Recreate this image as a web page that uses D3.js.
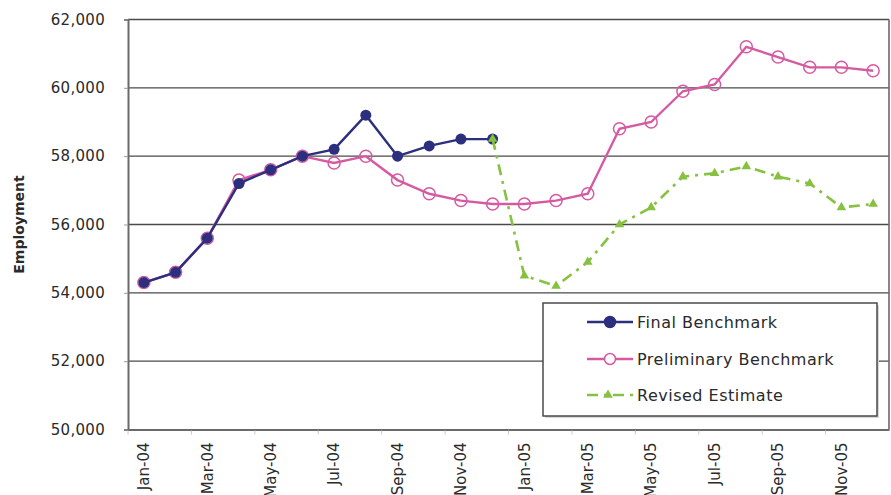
<!DOCTYPE html>
<html>
<head>
<meta charset="utf-8">
<script src="https://cdn.jsdelivr.net/npm/d3@7"></script>
<style>
  html, body { margin: 0; padding: 0; background: #fff; }
  svg { display: block; }
  text { font-family: "DejaVu Sans", Verdana, sans-serif; fill: #2a2a2a; }
</style>
</head>
<body>
<svg id="chart" width="891" height="495"></svg>
<script>
// Monthly categories, Jan-04 through Dec-05
const months = ["Jan-04","Feb-04","Mar-04","Apr-04","May-04","Jun-04","Jul-04","Aug-04","Sep-04","Oct-04","Nov-04","Dec-04",
                "Jan-05","Feb-05","Mar-05","Apr-05","May-05","Jun-05","Jul-05","Aug-05","Sep-05","Oct-05","Nov-05","Dec-05"];

// Final benchmark: Jan-04 .. Dec-04
const finalBenchmark = [54300, 54600, 55600, 57200, 57600, 58000, 58200, 59200, 58000, 58300, 58500, 58500];

// Preliminary benchmark: Jan-04 .. Dec-05
const preliminaryBenchmark = [54300, 54600, 55600, 57300, 57600, 58000, 57800, 58000, 57300, 56900, 56700, 56600,
                              56600, 56700, 56900, 58800, 59000, 59900, 60100, 61200, 60900, 60600, 60600, 60500];

// Revised estimate: Dec-04 .. Dec-05
const revisedMonths = months.slice(11);
const revisedEstimate = [58500, 54500, 54200, 54900, 56000, 56500, 57400, 57500, 57700, 57400, 57200, 56500, 56600];

const yTicks = [50000, 52000, 54000, 56000, 58000, 60000, 62000];
const xTickLabels = months.filter((m, i) => i % 2 === 0);

const seriesInfo = [
  { name: "Final Benchmark", color: "#2c2e7e" },
  { name: "Preliminary Benchmark", color: "#d65aa2" },
  { name: "Revised Estimate", color: "#86c140" }
];

const svg = d3.select("#chart");
const plotLeft = 128, plotRight = 889, plotTop = 19.5, plotBottom = 429.5;

const x = d3.scaleBand().domain(months).range([plotLeft, plotRight]).padding(0);
const cx = m => x(m) + x.bandwidth() / 2;
const y = d3.scaleLinear().domain([50000, 62000]).range([plotBottom, plotTop]);

// Horizontal gridlines
svg.append("g")
  .selectAll("line")
  .data(yTicks.filter(t => t > 50000))
  .join("line")
  .attr("x1", plotLeft).attr("x2", plotRight)
  .attr("y1", d => y(d)).attr("y2", d => y(d))
  .attr("stroke", "#4a4a4a").attr("stroke-width", 1.3);

// Right border
svg.append("line")
  .attr("x1", plotRight).attr("x2", plotRight).attr("y1", plotTop).attr("y2", plotBottom)
  .attr("stroke", "#6a6a6a").attr("stroke-width", 1.6);

// Y axis
const yAxis = svg.append("g")
  .attr("transform", `translate(${plotLeft},0)`)
  .call(d3.axisLeft(y).tickValues(yTicks).tickFormat(d3.format(",")).tickSize(4).tickPadding(19));
yAxis.select(".domain").attr("stroke", "#6a6a6a").attr("stroke-width", 2);
yAxis.selectAll(".tick line").attr("stroke", "#999");
yAxis.selectAll(".tick text")
  .style("font-family", "DejaVu Sans, sans-serif")
  .style("font-size", "15px").style("letter-spacing", "0.3px").attr("fill", "#2a2a2a");

// X axis
const xAxis = svg.append("g")
  .attr("transform", `translate(0,${plotBottom})`)
  .call(d3.axisBottom(x).tickValues(xTickLabels).tickSize(0).tickPadding(0));
xAxis.select(".domain").attr("stroke", "#6a6a6a").attr("stroke-width", 2);
xAxis.selectAll(".tick text")
  .style("font-family", "DejaVu Sans, sans-serif")
  .style("font-size", "15px").attr("fill", "#2a2a2a")
  .attr("transform", "rotate(-90)")
  .attr("text-anchor", "end")
  .attr("x", -13).attr("y", 0).attr("dy", "0.35em");

// Small tick marks at the left edge of each labelled category
svg.append("g")
  .selectAll("line")
  .data(xTickLabels)
  .join("line")
  .attr("x1", d => x(d)).attr("x2", d => x(d))
  .attr("y1", plotBottom + 1).attr("y2", plotBottom + 5)
  .attr("stroke", "#c8c8c8").attr("stroke-width", 1);

// Y axis title
svg.append("text")
  .attr("transform", `translate(24,${(plotTop + plotBottom) / 2}) rotate(-90)`)
  .attr("text-anchor", "middle")
  .style("font-size", "14px").style("font-weight", "bold")
  .attr("fill", "#1a1a1a")
  .text("Employment");

const line = d3.line().x(d => cx(d.m)).y(d => y(d.v));

// Preliminary benchmark
const prelim = months.map((m, i) => ({ m, v: preliminaryBenchmark[i] }));
svg.append("path").datum(prelim)
  .attr("d", line).attr("fill", "none")
  .attr("stroke", seriesInfo[1].color).attr("stroke-width", 2.4);
svg.append("g").selectAll("circle").data(prelim).join("circle")
  .attr("cx", d => cx(d.m)).attr("cy", d => y(d.v)).attr("r", 6)
  .attr("fill", "none").attr("stroke", seriesInfo[1].color).attr("stroke-width", 1.5);

// Final benchmark
const fin = finalBenchmark.map((v, i) => ({ m: months[i], v }));
svg.append("path").datum(fin)
  .attr("d", line).attr("fill", "none")
  .attr("stroke", seriesInfo[0].color).attr("stroke-width", 2.4);
svg.append("g").selectAll("circle").data(fin).join("circle")
  .attr("cx", d => cx(d.m)).attr("cy", d => y(d.v)).attr("r", 5.5)
  .attr("fill", seriesInfo[0].color);

// Revised estimate
const rev = revisedEstimate.map((v, i) => ({ m: revisedMonths[i], v }));
svg.append("path").datum(rev)
  .attr("d", line).attr("fill", "none")
  .attr("stroke", seriesInfo[2].color).attr("stroke-width", 2.6)
  .attr("stroke-dasharray", "11,6,3,6");
const tri = d3.symbol().type(d3.symbolTriangle).size(40);
svg.append("g").selectAll("path").data(rev).join("path")
  .attr("transform", d => `translate(${cx(d.m)},${y(d.v)})`)
  .attr("d", tri).attr("fill", seriesInfo[2].color);

// Legend
const lg = svg.append("g");
lg.append("rect")
  .attr("x", 545).attr("y", 305).attr("width", 334).attr("height", 113)
  .attr("fill", "#d8d8d8");
lg.append("rect")
  .attr("x", 543).attr("y", 303).attr("width", 334).attr("height", 113)
  .attr("fill", "#fff").attr("stroke", "#3e3e3e").attr("stroke-width", 1.4);
const rowsY = [322, 359, 395];
seriesInfo.forEach((s, i) => {
  const g = lg.append("g").attr("transform", `translate(0,${rowsY[i]})`);
  if (i < 2) {
    g.append("line").attr("x1", 587).attr("x2", 633).attr("y1", 0).attr("y2", 0)
      .attr("stroke", s.color).attr("stroke-width", 2.4);
    g.append("circle").attr("cx", 610).attr("cy", 0).attr("r", 5.5)
      .attr("fill", i === 0 ? s.color : "#fff")
      .attr("stroke", s.color).attr("stroke-width", 1.5);
  } else {
    g.append("line").attr("x1", 587).attr("x2", 633).attr("y1", 0).attr("y2", 0)
      .attr("stroke", s.color).attr("stroke-width", 2.6)
      .attr("stroke-dasharray", "11,6,3,6");
    g.append("path").attr("transform", "translate(608,0)").attr("d", tri).attr("fill", s.color);
  }
  g.append("text").attr("x", 637).attr("y", 0).attr("dy", "0.36em")
    .style("font-size", "16px").style("letter-spacing", "0.5px").text(s.name);
});
</script>
</body>
</html>
